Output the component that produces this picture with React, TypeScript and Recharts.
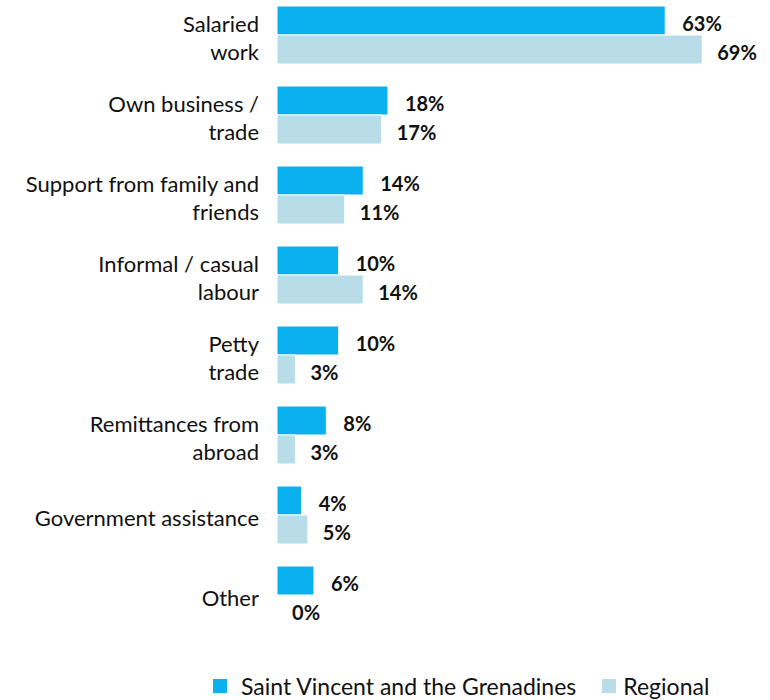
import { BarChart, Bar, XAxis, YAxis, LabelList } from "recharts";

// values (percent)
const categories = [
  "Salaried work",
  "Own business / trade",
  "Support from family and friends",
  "Informal / casual labour",
  "Petty trade",
  "Remittances from abroad",
  "Government assistance",
  "Other",
];
const tickLines = [
  ["Salaried", "work"],
  ["Own business /", "trade"],
  ["Support from family and", "friends"],
  ["Informal / casual", "labour"],
  ["Petty", "trade"],
  ["Remittances from", "abroad"],
  ["Government assistance"],
  ["Other"],
];
const svgValues = [63, 18, 14, 10, 10, 8, 4, 6];
const regionalValues = [69, 17, 11, 14, 3, 3, 5, 0];

const seriesNames = ["Saint Vincent and the Grenadines", "Regional"];
const colors = ["#0BB0EE", "#B8DDE8"];

const data = categories.map((c, i) => ({
  name: c,
  svg: svgValues[i],
  regional: regionalValues[i],
}));

const FONT = "Lato, 'Open Sans', sans-serif";

const CategoryTick = (props: any) => {
  const { x, y, index } = props;
  const lines = tickLines[index] || [props.payload.value];
  const lh = 28;
  const start = -((lines.length - 1) * lh) / 2 + 3;
  return (
    <text x={x - 10} y={y} textAnchor="end" fontFamily={FONT} fontSize={22} fill="#111">
      {lines.map((l: string, i: number) => (
        <tspan key={i} x={x - 10} y={y + start + i * lh} dy="0.36em">
          {l}
        </tspan>
      ))}
    </text>
  );
};

const labelStyle = { fontFamily: FONT, fontSize: 20, fontWeight: 700, fill: "#111" };

const App = () => {
  return (
    <div style={{ position: "absolute", left: 0, top: 0, width: 770, height: 700, background: "#fff" }}>
      <BarChart
        width={770}
        height={700}
        data={data}
        layout="vertical"
        margin={{ top: -5, right: 0, bottom: 65, left: 0 }}
        barGap={0}
        barSize={29}
      >
        <XAxis type="number" domain={[0, 80]} hide />
        <YAxis
          type="category"
          dataKey="name"
          width={277}
          axisLine={false}
          tickLine={false}
          interval={0}
          tick={<CategoryTick />}
        />
        <Bar dataKey="svg" name={seriesNames[0]} fill={colors[0]} stroke="#fff" strokeWidth={1} isAnimationActive={false}>
          <LabelList
            dataKey="svg"
            position="right"
            offset={17}
            dy={3}
            formatter={(v: any) => `${v}%`}
            style={labelStyle}
          />
        </Bar>
        <Bar
          dataKey="regional"
          name={seriesNames[1]}
          fill={colors[1]}
          stroke="#fff"
          strokeWidth={1}
          minPointSize={0.1}
          isAnimationActive={false}
        >
          <LabelList
            dataKey="regional"
            position="right"
            offset={15}
            dy={3}
            formatter={(v: any) => `${v}%`}
            style={labelStyle}
          />
        </Bar>
      </BarChart>
      <div
        style={{
          position: "absolute",
          left: 213,
          top: 671,
          height: 30,
          display: "flex",
          alignItems: "center",
          fontFamily: FONT,
          fontSize: 23,
          color: "#111",
          whiteSpace: "nowrap",
        }}
      >
        <span style={{ width: 14, height: 14, background: colors[0], marginRight: 14 }} />
        <span style={{ marginRight: 26 }}>{seriesNames[0]}</span>
        <span style={{ width: 14, height: 14, background: colors[1], marginRight: 7 }} />
        <span>{seriesNames[1]}</span>
      </div>
    </div>
  );
};

export default App;
